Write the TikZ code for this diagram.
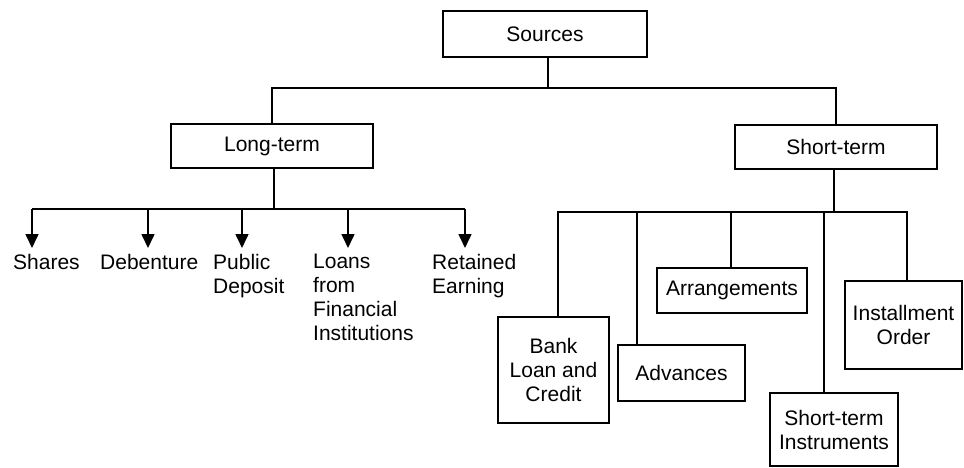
\documentclass[tikz,border=0pt]{standalone}
\usepackage{fontspec}
\setmainfont{Liberation Sans}
\usetikzlibrary{arrows.meta}
\begin{document}
\begin{tikzpicture}[x=1pt,y=-1pt,
  box/.style={draw,line width=1.6pt,rectangle,inner sep=0pt,align=center,
    font=\fontsize{21}{24}\selectfont},
  leaf/.style={anchor=north west,inner sep=0pt,align=left,
    font=\fontsize{21}{24}\selectfont},
  conn/.style={line width=1.6pt},
  arr/.style={line width=1.6pt,-{Triangle[length=14pt,width=13pt]}}]
\useasboundingbox (0,0) rectangle (964,468);
% boxes
\node[box,minimum width=204pt,minimum height=46pt] (src) at (545,34) {Sources};
\node[box,minimum width=202pt,minimum height=44pt] (lt) at (272,146) {Long-term};
\node[box,minimum width=202pt,minimum height=44pt] (st) at (836,147) {Short-term};
\node[box,minimum width=111pt,minimum height=106pt] (bank) at (553.5,370) {Bank\\Loan and\\Credit};
\node[box,minimum width=127pt,minimum height=56pt] (adv) at (681.5,373) {Advances};
\node[box,minimum width=150pt,minimum height=45pt] (arrg) at (732,290.5) {Arrangements};
\node[box,minimum width=128pt,minimum height=73pt] (sti) at (834,429.5) {Short-term\\Instruments};
\node[box,minimum width=117pt,minimum height=88pt] (inst) at (903.5,325) {Installment\\Order};
% leaf texts
\node[leaf] (shares) at (13,254) {Shares};
\node[leaf] (deb) at (100,254) {Debenture};
\node[leaf] (pub) at (213,254) {Public\\Deposit};
\node[leaf] (loans) at (313,254) {Loans\\from\\Financial\\Institutions};
\node[leaf] (ret) at (432,254) {Retained\\Earning};
% top level connectors
\coordinate (j0) at (548,88);
\draw[conn] ([xshift=3pt]src.south) -- (j0);
\draw[conn] (lt.north) |- (j0) -| (st.north);
% long-term bus
\coordinate (lb) at (274,209);
\coordinate (a1) at (32,248);
\coordinate (a2) at (148,248);
\coordinate (a3) at (242,248);
\coordinate (a4) at (348,248);
\coordinate (a5) at (465,248);
\draw[conn] ([xshift=2pt]lt.south) -- (lb);
\draw[conn] (a1 |- lb) -- (a5 |- lb);
\foreach \a in {a1,a2,a3,a4,a5}
  \draw[arr] (\a |- lb) -- (\a);
% short-term bus
\coordinate (sb) at (834,212);
\draw[conn] ([xshift=-2pt]st.south) -- (sb);
\draw[conn] ([xshift=4.5pt]bank.north) |- (sb) -| ([xshift=3.5pt]inst.north);
\draw[conn] ([xshift=-44.5pt]adv.north) -- ([xshift=-44.5pt]adv.north |- sb);
\draw[conn] ([xshift=-1pt]arrg.north) -- ([xshift=-1pt]arrg.north |- sb);
\draw[conn] ([xshift=-10pt]sti.north) -- ([xshift=-10pt]sti.north |- sb);
\end{tikzpicture}
\end{document}
